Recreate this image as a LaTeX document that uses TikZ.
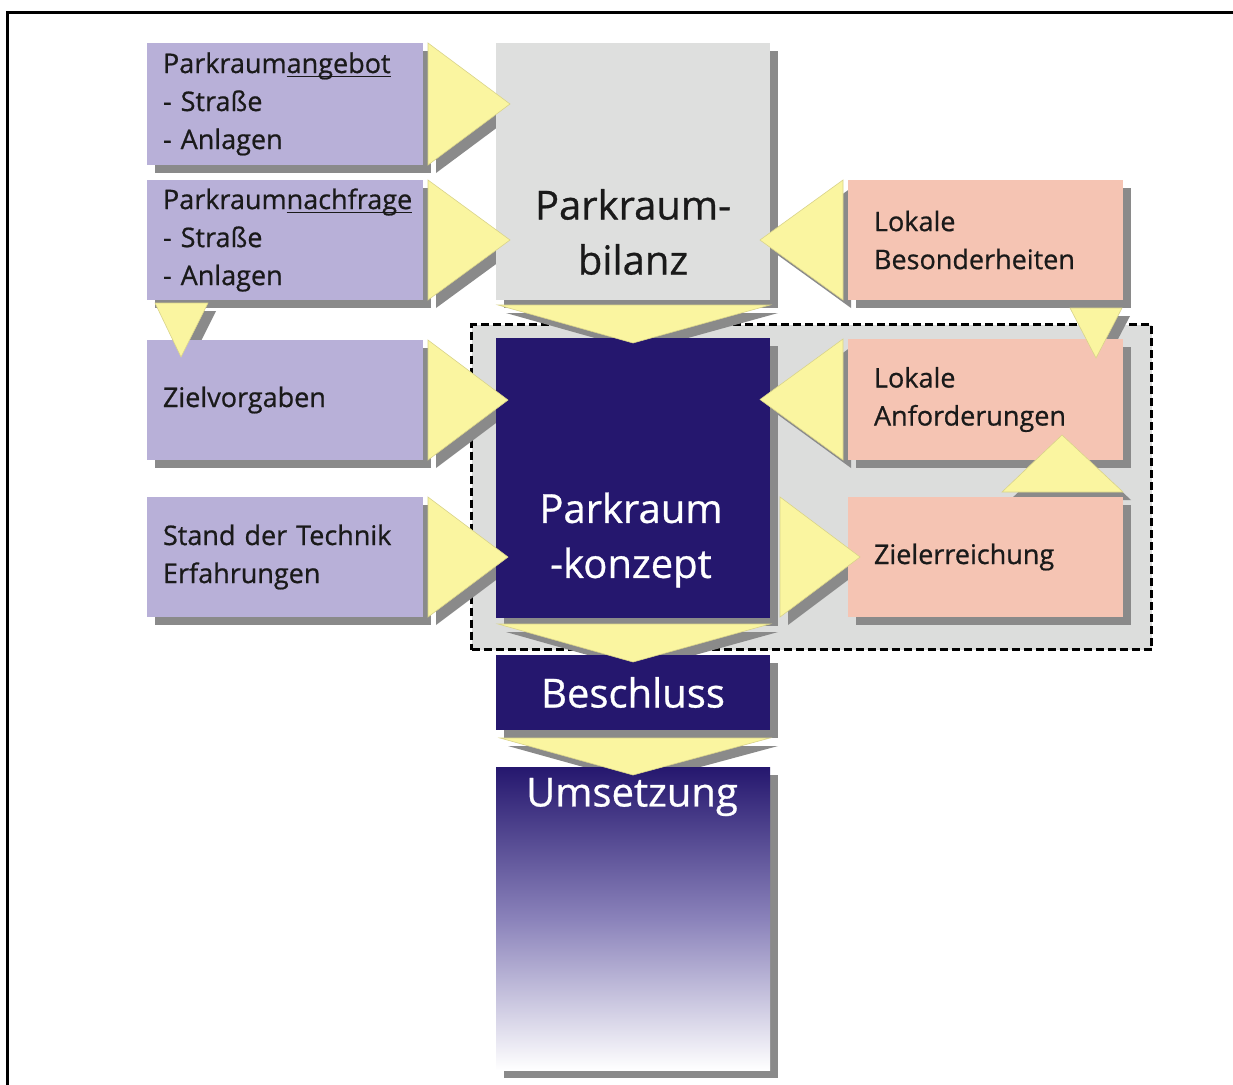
\documentclass[tikz,border=0pt]{standalone}
\usepackage{fontspec}
\setmainfont{Open Sans}[FakeBold=0.7]
\usetikzlibrary{calc,shadows}
\pgfdeclarelayer{bgA}
\pgfdeclarelayer{bgB}
\pgfdeclarelayer{fg}
\pgfsetlayers{bgA,bgB,main,fg}
\definecolor{lav}{HTML}{B8B0D8}
\definecolor{salmon}{HTML}{F5C4B3}
\definecolor{lgray}{HTML}{DEDFDE}
\definecolor{navy}{HTML}{25176E}
\definecolor{midnavy}{HTML}{8A82BA}
\definecolor{shad}{HTML}{8A8A8A}
\definecolor{yel}{HTML}{FAF5A0}
\definecolor{yeledge}{HTML}{D9D38A}
\definecolor{regfill}{HTML}{DCDDDC}
\definecolor{ink}{HTML}{1A1A1A}
\newcommand\myul[1]{\setbox0\hbox{#1}\rlap{\rule[-4pt]{\wd0}{1.5pt}}#1}
\newcommand\arrowset[2]{%
 \path[#1] ($(angebot.north east)+(5,0)+#2$) -- ($(angebot.east -| bilanz.west)+(14,0)+#2$) -- ($(angebot.south east)+(5,0)+#2$) -- cycle;
 \path[#1] ($(nachfrage.north east)+(5,0)+#2$) -- ($(nachfrage.east -| bilanz.west)+(14,0)+#2$) -- ($(nachfrage.south east)+(5,0)+#2$) -- cycle;
 \path[#1] ($(ziel.north east)+(5,0)+#2$) -- ($(ziel.east -| konzept.west)+(12,0)+#2$) -- ($(ziel.south east)+(5,0)+#2$) -- cycle;
 \path[#1] ($(stand.north east)+(5,0)+#2$) -- ($(stand.east -| konzept.west)+(12,0)+#2$) -- ($(stand.south east)+(5,0)+#2$) -- cycle;
 \path[#1] ($(besond.north west)+(-5,0)+#2$) -- ($(besond.west -| bilanz.east)+(-10,0)+#2$) -- ($(besond.south west)+(-5,0)+#2$) -- cycle;
 \path[#1] ($(anford.north west)+(-5,0)+#2$) -- ($(anford.west -| konzept.east)+(-10,0)+#2$) -- ($(anford.south west)+(-5,0)+#2$) -- cycle;
 \path[#1] ($(zielerr.north west -| konzept.east)+(10,0)+#2$) -- ($(zielerr.west)+(12,0)+#2$) -- ($(zielerr.south west -| konzept.east)+(10,0)+#2$) -- cycle;
 \path[#1] ($(bilanz.south west)+(2,5)+#2$) -- ($(bilanz.south east)+(0,5)+#2$) -- ($(konzept.north)+(0,5)+#2$) -- cycle;
 \path[#1] ($(konzept.south west)+(2,6)+#2$) -- ($(konzept.south east)+(0,6)+#2$) -- ($(beschluss.north)+(0,7)+#2$) -- cycle;
 \path[#1] ($(beschluss.south west)+(4,8)+#2$) -- ($(beschluss.south east)+(0,8)+#2$) -- ($(umsetzung.north)+(0,8)+#2$) -- cycle;
 \path[#1] ($(nachfrage.south west)+(8,3)+#2$) -- ($(nachfrage.south west)+(61,3)+#2$) -- ($(nachfrage.south west |- ziel.north)+(34,17)+#2$) -- cycle;
 \path[#1] ($(besond.south east)+(-53,8)+#2$) -- ($(besond.south east)+(-1,8)+#2$) -- ($(besond.south east |- anford.north)+(-27,19)+#2$) -- cycle;
 \path[#1] ($(zielerr.north east)+(-121,-5)+#2$) -- ($(zielerr.north east)+(0,-5)+#2$) -- ($(zielerr.north east |- anford.south)+(-61,-25)+#2$) -- cycle;
}
\tikzset{
 box/.style={anchor=north west, inner sep=0pt, outer sep=0pt,
   drop shadow={shadow xshift=8pt, shadow yshift=-8pt, fill=shad, opacity=1}},
 smallfont/.style={font=\fontsize{27}{38}\selectfont},
 bigfont/.style={font=\fontsize{40}{55}\selectfont},
 leftbox/.style={box, fill=lav, text=ink, align=left, text width=244pt, inner xsep=16pt,
   minimum width=276pt, minimum height=120pt, smallfont},
 rightbox/.style={box, fill=salmon, text=ink, align=left, text width=223pt, inner xsep=26pt,
   minimum width=275pt, minimum height=120pt, smallfont},
 centerbox/.style={box, minimum width=274pt},
 lbl/.style={align=center, bigfont, inner sep=0pt},
 tri/.style={fill=yel, draw=yeledge, line width=0.6pt, line join=miter},
 trishadow/.style={fill=shad},
 region/.style={anchor=north west, draw=black, fill=regfill, line width=3.2pt,
   dash pattern=on 8pt off 4pt, inner sep=0pt, minimum width=680pt, minimum height=325pt}
}
\begin{document}
\begin{tikzpicture}[x=1pt,y=-1pt]
\useasboundingbox (0,0) rectangle (1233,1084);
\begin{pgfonlayer}{bgA}
\fill[white] (0,0) rectangle (1233,1084);
\node[region] (grp) at (470,323) {};
\end{pgfonlayer}
\draw[line width=3pt] (7,1095) -- (7,12) -- (1245,12);
% left column
\node[leftbox, minimum height=122pt] (angebot) at (147,43) {Parkraum\myul{angebot}\\- Straße\\- Anlagen};
\node[leftbox] (nachfrage) at (147,180) {Parkraum\myul{nachfrage}\\- Straße\\- Anlagen};
\node[leftbox] (ziel) at (147,340) {Zielvorgaben};
\node[leftbox] (stand) at (147,497) {Stand der Technik\\Erfahrungen};
% center column
\node[centerbox, fill=lgray, minimum height=257pt] (bilanz) at (496,43) {};
\node[centerbox, fill=navy, minimum height=280pt] (konzept) at (496,338) {};
\node[centerbox, fill=navy, minimum height=75pt, text=white, bigfont] (beschluss) at (496,655) {Beschluss};
\node[centerbox, top color=navy, bottom color=white, middle color=midnavy, minimum height=303pt] (umsetzung) at (496,767) {};
\node[lbl, text=ink] (bilanzlbl) at (633,232) {Parkraum-\\bilanz};
\node[lbl, text=white] (konzeptlbl) at (631,540) {Parkraum\\-konzept};
\node[lbl, text=white] (umsetzunglbl) at (632,797) {Umsetzung};
% right column
\node[rightbox] (besond) at (848,180) {Lokale\\Besonderheiten};
\node[rightbox, minimum height=121pt] (anford) at (848,339) {Lokale\\Anforderungen};
\node[rightbox] (zielerr) at (848,497) {Zielerreichung};
% connectors
\begin{pgfonlayer}{bgB}
\arrowset{trishadow}{(8,8)}
\end{pgfonlayer}
\begin{pgfonlayer}{fg}
\arrowset{tri}{(0,0)}
\end{pgfonlayer}
\end{tikzpicture}
\end{document}
